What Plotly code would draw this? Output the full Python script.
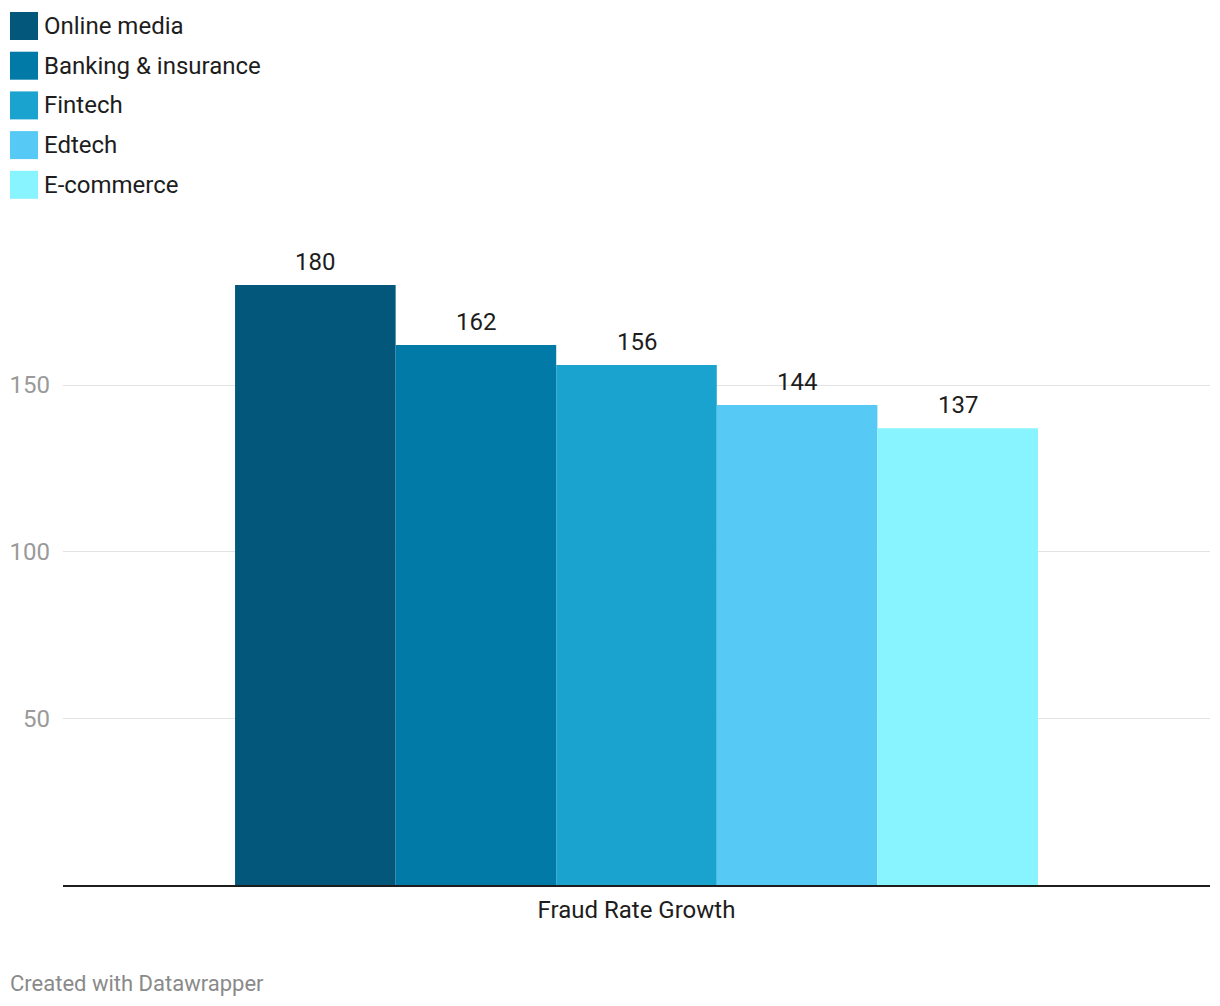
import plotly.graph_objects as go

categories = ["Fraud Rate Growth"]
series_names = ["Online media", "Banking & insurance", "Fintech", "Edtech", "E-commerce"]
series_values = [180, 162, 156, 144, 137]
colors = ["#02577a", "#027aa7", "#1ba3d0", "#57c9f5", "#88f4ff"]
y_ticks = [50, 100, 150]

# page has an 8px body margin, so the figure is sized/positioned accordingly
W, H = 1212, 998
ML, MR, MT, MB = 55, 10, 227, 121
BARGAP = 0.3
PW, PH = W - ML - MR, H - MT - MB

fig = go.Figure()
n = len(series_names)
group_w = 1 - BARGAP
annotations = []
for i, (name, val, col) in enumerate(zip(series_names, series_values, colors)):
    fig.add_trace(go.Bar(
        x=categories, y=[val], name=name, marker=dict(color=col, line=dict(width=0)),
        showlegend=False, hoverinfo="name+y",
    ))
    xc = -group_w / 2 + group_w / n * (i + 0.5)
    annotations.append(dict(text=str(val), xref="x", yref="y", x=xc, y=val,
                            yshift=23, xanchor="center", yanchor="middle", showarrow=False,
                            font=dict(family="Roboto", size=24, color="#1d1d1d")))

# custom legend
shapes = []
for i, (name, col) in enumerate(zip(series_names, colors)):
    top = 4 + i * 39.7
    shapes.append(dict(type="rect", xref="paper", yref="paper",
                       x0=(2 - ML) / PW, x1=(30 - ML) / PW,
                       y0=1 + (MT - (top + 28)) / PH, y1=1 + (MT - top) / PH,
                       fillcolor=col, line=dict(width=0)))
    annotations.append(dict(text=name, xref="paper", yref="paper",
                            x=(34 - ML) / PW, y=1 + (MT - (top + 14)) / PH,
                            xanchor="left", yanchor="middle", showarrow=False,
                            font=dict(family="Roboto", size=24, color="#1d1d1d")))

annotations.append(dict(text="Created with Datawrapper", xref="paper", yref="paper",
                        x=(0 - ML) / PW, y=-(975 - (H - MB)) / PH,
                        xanchor="left", yanchor="middle", showarrow=False,
                        font=dict(family="Roboto", size=22, color="#8a8a8a")))

fig.update_layout(
    width=W, height=H,
    margin=dict(l=ML, r=MR, t=MT, b=MB, autoexpand=False),
    paper_bgcolor="white", plot_bgcolor="white",
    barmode="group", bargap=BARGAP, bargroupgap=0,
    font=dict(family="Roboto", size=24, color="#1d1d1d"),
    shapes=shapes, annotations=annotations,
    xaxis=dict(showline=True, linecolor="#1d1d1d", linewidth=2, ticks="",
               showgrid=False, tickfont=dict(family="Roboto", size=24, color="#1d1d1d"),
               ticklabelstandoff=2),
    yaxis=dict(range=[0, 195], tickvals=y_ticks, showgrid=True, gridcolor="#e3e3e3",
               gridwidth=1, zeroline=False, showline=False, ticks="",
               tickfont=dict(family="Roboto", size=24, color="#9a9a9a"),
               ticklabelstandoff=12),
)

fig.write_html("out.html")
